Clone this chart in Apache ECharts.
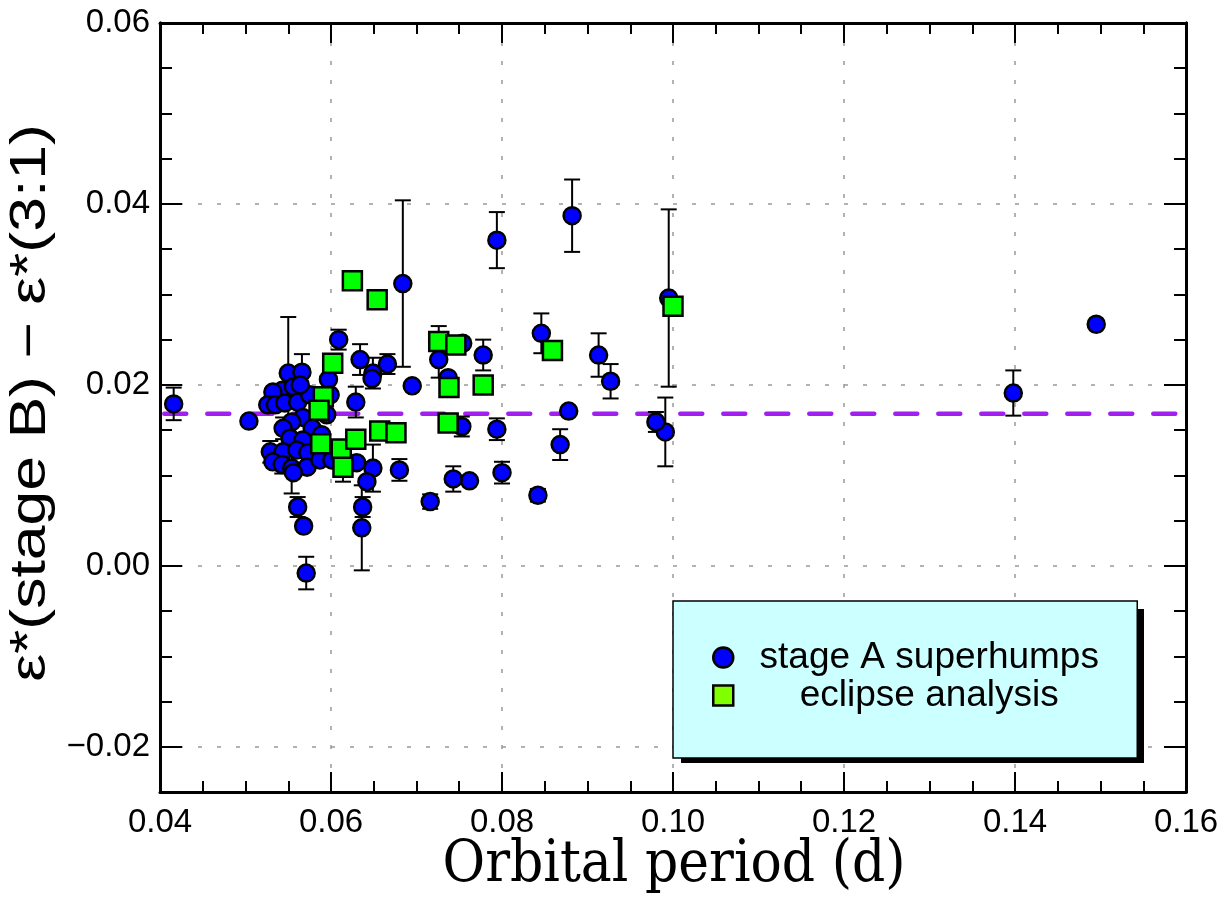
<!DOCTYPE html>
<html>
<head>
<meta charset="utf-8">
<script src="https://cdn.jsdelivr.net/npm/echarts@6/dist/echarts.min.js"></script>
<style>
  html, body { margin: 0; padding: 0; background: #fff; }
  #chart { width: 1231px; height: 903px; }
</style>
</head>
<body>
<div id="chart"></div>
<script>
// stage A superhumps: orbital period, eps difference, error (0 = no bar)
var stageAPeriod = [0.0416, 0.0504, 0.0794, 0.0882, 0.1398, 0.1495, 0.0995, 0.0991, 0.0980, 0.0927,
  0.0913, 0.0878, 0.0868, 0.0846, 0.0842, 0.0800, 0.0794, 0.0778, 0.0762, 0.0743,
  0.0753, 0.0754, 0.0737, 0.0726, 0.0716, 0.0695, 0.0684, 0.0680, 0.0666, 0.0649,
  0.0648, 0.0649, 0.0642, 0.0637, 0.0636, 0.0634, 0.0629, 0.0630, 0.0609, 0.0597,
  0.0571, 0.0568, 0.0561, 0.0550, 0.0566, 0.0543, 0.0532, 0.0556, 0.0526, 0.0535,
  0.0546, 0.0561, 0.0567, 0.0554, 0.0544, 0.0578, 0.0589, 0.0552, 0.0567, 0.0529,
  0.0544, 0.0560, 0.0573, 0.0532, 0.0543, 0.0554, 0.0572, 0.0587, 0.0601, 0.0595,
  0.0556, 0.0575, 0.0599, 0.0564]
var stageAEps = [0.0179, 0.0160, 0.0360, 0.0387, 0.0191, 0.0267, 0.0296, 0.0148, 0.0159, 0.0204,
  0.0233, 0.0171, 0.0134, 0.0257, 0.0078, 0.0103, 0.0151, 0.0233, 0.0094, 0.0096,
  0.0154, 0.0246, 0.0208, 0.0228, 0.0071, 0.0199, 0.0312, 0.0106, 0.0223, 0.0213,
  0.0207, 0.0108, 0.0093, 0.0065, 0.0042, 0.0228, 0.0181, 0.0114, 0.0250, 0.0206,
  -0.0008, 0.0044, 0.0065, 0.0213, 0.0214, 0.0194, 0.0192, 0.0198, 0.0178, 0.0178,
  0.0180, 0.0181, 0.0164, 0.0159, 0.0152, 0.0152, 0.0145, 0.0141, 0.0139, 0.0126,
  0.0126, 0.0128, 0.0125, 0.0115, 0.0112, 0.0108, 0.0109, 0.0117, 0.0117, 0.0167,
  0.0103, 0.0189, 0.0189, 0.0200]
var stageAErr = [0.0018, 0, 0.0031, 0.0040, 0.0025, 0, 0.0098, 0.0038, 0.0011, 0.0019,
  0.0024, 0, 0.0017, 0.0022, 0.0007, 0.0012, 0.0012, 0.0017, 0, 0.0014,
  0.0011, 0, 0, 0.0020, 0.0008, 0, 0.0092, 0.0012, 0.0011, 0.0017,
  0, 0.0026, 0, 0.0011, 0.0047, 0.0017, 0.0017, 0, 0.0011, 0,
  0.0018, 0, 0.0011, 0.0062, 0.0020, 0, 0, 0, 0, 0,
  0, 0.0014, 0, 0, 0.0012, 0, 0, 0, 0, 0.0012,
  0, 0, 0.0013, 0, 0.0010, 0.0028, 0, 0, 0, 0,
  0, 0, 0, 0]

// eclipse analysis
var eclPeriod = [0.0625, 0.0654, 0.0602, 0.0591, 0.0586, 0.0588, 0.0612, 0.0614, 0.0629, 0.0657,
  0.0676, 0.0726, 0.0746, 0.0738, 0.0778, 0.0737, 0.0859, 0.1000]
var eclEps = [0.0315, 0.0294, 0.0224, 0.0187, 0.0172, 0.0135, 0.0129, 0.0109, 0.0140, 0.0149,
  0.0147, 0.0248, 0.0244, 0.0197, 0.0200, 0.0158, 0.0238, 0.0287]
var eclErr = [0, 0, 0, 0, 0, 0, 0, 0.0016, 0, 0,
  0, 0.0017, 0, 0, 0, 0, 0, 0]

var yMajor = [-0.02, 0, 0.02, 0.04, 0.06]
var refLevel = 0.0168
var refSpan = [0.0405, 0.1595]

function zip3 (a, b, c) {
  return a.map(function (v, i) { return [v, b[i], c[i]] })
}

function errBar (params, api) {
  var e = api.value(2)
  if (!e) return null
  var x = api.value(0)
  var y = api.value(1)
  var top = api.coord([x, y + e])
  var bot = api.coord([x, y - e])
  var cap = 8
  var st = { stroke: '#000', lineWidth: 2 }
  return {
    type: 'group',
    children: [
      { type: 'line', shape: { x1: top[0], y1: top[1], x2: bot[0], y2: bot[1] }, style: st },
      { type: 'line', shape: { x1: top[0] - cap, y1: top[1], x2: top[0] + cap, y2: top[1] }, style: st },
      { type: 'line', shape: { x1: bot[0] - cap, y1: bot[1], x2: bot[0] + cap, y2: bot[1] }, style: st }
    ]
  }
}

function fmt (v) {
  if (Math.abs(v) < 1e-9) return '0.00'
  return (v < 0 ? '\u2212' : '') + Math.abs(v).toFixed(2)
}

var labelFont = 'Liberation Sans'
var dotted = { show: true, lineStyle: { color: '#999', width: 1.5, type: [4, 15] } }

function yAx (pos, major) {
  return {
    type: 'value', position: pos, min: -0.025, max: 0.06, interval: 0.005,
    axisLine: { show: true, onZero: false, lineStyle: { color: '#000', width: 3 } },
    axisTick: major
      ? { show: true, inside: true, length: 22, customValues: yMajor, lineStyle: { color: '#000', width: 2 } }
      : { show: true, inside: true, length: 12, lineStyle: { color: '#000', width: 2 } },
    axisLabel: (major && pos === 'left')
      ? { show: true, customValues: yMajor, formatter: fmt, color: '#000', fontSize: 33, fontFamily: labelFont, margin: 10 }
      : { show: false },
    splitLine: (major && pos === 'left') ? dotted : { show: false }
  }
}

function xAx (pos) {
  var bottom = pos === 'bottom'
  return {
    type: 'value', position: pos, min: 0.04, max: 0.16, interval: 0.02,
    axisLine: { show: true, onZero: false, lineStyle: { color: '#000', width: 3 } },
    axisTick: { show: true, inside: true, length: 20, lineStyle: { color: '#000', width: 2 } },
    minorTick: { show: true, splitNumber: 4, length: 11, lineStyle: { color: '#000', width: 2 } },
    axisLabel: bottom
      ? { show: true, formatter: fmt, color: '#000', fontSize: 33, fontFamily: labelFont, margin: 14, showMinLabel: true, showMaxLabel: true }
      : { show: false },
    splitLine: bottom ? dotted : { show: false }
  }
}

var chart = echarts.init(document.getElementById('chart'), null, { renderer: 'canvas' })
chart.setOption({
  backgroundColor: '#fff',
  animation: false,
  grid: { left: 160, top: 23, right: 45, bottom: 111, containLabel: false },
  xAxis: [xAx('bottom'), xAx('top')],
  yAxis: [yAx('left', true), yAx('left', false), yAx('right', true), yAx('right', false)],
  legend: {
    left: 673, top: 601, orient: 'vertical', z: 20,
    padding: [38, 17, 44, 39],
    itemWidth: 20, itemHeight: 20, itemGap: 1,
    selectedMode: false,
    backgroundColor: '#ccffff',
    borderColor: '#000', borderWidth: 1.5,
    formatter: function (name) { return '{t|' + name + '}' },
    textStyle: {
      color: '#000',
      rich: { t: { width: 382, align: 'center', fontSize: 37, lineHeight: 37, fontFamily: labelFont, color: '#000' } }
    },
    data: [
      { name: 'stage A superhumps', icon: 'circle', itemStyle: { color: '#0000ff', borderColor: '#000', borderWidth: 2.5 } },
      { name: 'eclipse analysis', icon: 'rect', itemStyle: { color: '#80ff00', borderColor: '#000', borderWidth: 2.5 } }
    ]
  },
  graphic: [
    {
      // drop shadow behind the legend box
      type: 'rect', z: 15, silent: true,
      shape: { x: 681, y: 609, width: 463, height: 154 },
      style: { fill: '#000' }
    },
    {
      type: 'text', x: 31, y: 403, rotation: Math.PI / 2, scaleX: 1.25,
      style: { text: '\u03b5*(stage B) \u2212 \u03b5*(3:1)', font: '50px "Liberation Sans"', fill: '#000', align: 'center', verticalAlign: 'middle' }
    },
    {
      type: 'text', x: 674, y: 866, scaleY: 1.1,
      style: { text: 'Orbital period (d)', font: '52px "DejaVu Serif"', fill: '#000', align: 'center', verticalAlign: 'middle' }
    }
  ],
  series: [
    {
      type: 'line', name: 'ref', z: 1, silent: true,
      showSymbol: false, symbol: 'none',
      lineStyle: { color: '#a020f0', width: 4.5, type: [22, 21], cap: 'round' },
      data: refSpan.map(function (v) { return [v, refLevel] })
    },
    {
      type: 'custom', name: 'errA', z: 2, silent: true,
      renderItem: errBar,
      data: zip3(stageAPeriod, stageAEps, stageAErr)
    },
    {
      type: 'custom', name: 'errE', z: 2, silent: true,
      renderItem: errBar,
      data: zip3(eclPeriod, eclEps, eclErr)
    },
    {
      type: 'scatter', name: 'stage A superhumps', z: 3,
      symbol: 'circle', symbolSize: 17,
      itemStyle: { color: '#0000ff', borderColor: '#000', borderWidth: 2.5, opacity: 1 },
      data: stageAPeriod.map(function (v, i) { return [v, stageAEps[i]] })
    },
    {
      type: 'scatter', name: 'eclipse analysis', z: 4,
      symbol: 'rect', symbolSize: 19,
      itemStyle: { color: '#00ff00', borderColor: '#000', borderWidth: 2.5, opacity: 1 },
      data: eclPeriod.map(function (v, i) { return [v, eclEps[i]] })
    }
  ]
})
</script>
</body>
</html>
